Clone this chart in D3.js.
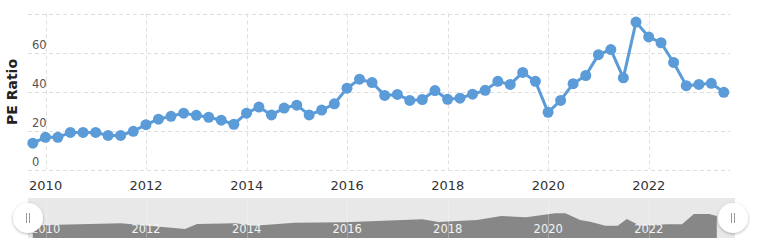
<!DOCTYPE html>
<html>
<head>
<meta charset="utf-8">
<script src="https://cdn.jsdelivr.net/npm/d3@7/dist/d3.min.js"></script>
<style>
  body { margin: 0; background: #fff; }
  svg { display: block; font-family: "DejaVu Sans", sans-serif; }
</style>
</head>
<body>
<div id="chart"></div>
<script>
// quarterly PE ratio, quarter-end dates
var dates = ["2009-09-30","2009-12-31","2010-03-31","2010-06-30","2010-09-30","2010-12-31",
    "2011-03-31","2011-06-30","2011-09-30","2011-12-31","2012-03-31","2012-06-30","2012-09-30","2012-12-31",
    "2013-03-31","2013-06-30","2013-09-30","2013-12-31","2014-03-31","2014-06-30","2014-09-30","2014-12-31",
    "2015-03-31","2015-06-30","2015-09-30","2015-12-31","2016-03-31","2016-06-30","2016-09-30","2016-12-31",
    "2017-03-31","2017-06-30","2017-09-30","2017-12-31","2018-03-31","2018-06-30","2018-09-30","2018-12-31",
    "2019-03-31","2019-06-30","2019-09-30","2019-12-31","2020-03-31","2020-06-30","2020-09-30","2020-12-31",
    "2021-03-31","2021-06-30","2021-09-30","2021-12-31","2022-03-31","2022-06-30","2022-09-30","2022-12-31",
    "2023-03-31","2023-06-30"];
var peValues = [13.5, 16.5, 16.5, 19, 19, 19, 17.5, 17.5, 19.6, 23, 25.8, 27.3, 28.9, 27.8,
    26.8, 25.3, 23.2, 28.9, 32, 28, 31.5, 33, 28, 30.5, 33.7, 41.7, 46.3, 44.6, 38, 38.5,
    35.4, 35.9, 40.5, 36, 36.6, 38.6, 40.6, 45.2, 43.6, 49.8, 45.2, 29.3, 35.4, 44, 48.2, 58.9,
    61.5, 47, 75.6, 68, 65, 54.9, 43, 43.6, 44.2, 39.6];
var yTicks = [0, 20, 40, 60, 80];
var xTickYears = [2010, 2012, 2014, 2016, 2018, 2020, 2022];

// navigator series
var navDates = ["2009-09-30","2010-01-15","2011-07-01","2012-10-10","2013-01-05","2013-10-10",
    "2014-02-25","2014-12-15","2015-12-10","2017-07-01","2017-10-25","2018-08-01","2019-01-25",
    "2019-07-25","2020-02-20","2020-05-05","2020-08-20","2020-11-01","2021-02-20","2021-05-20",
    "2021-07-25","2021-10-30","2022-05-15","2022-08-30","2022-11-25","2023-03-15","2023-05-10"];
var navValues = [13, 13, 14.7, 9, 14, 14.7, 12.3, 15.3, 15.7, 18.7, 16, 18, 22, 20.7, 24.7, 24.7,
    18, 16.3, 12.3, 12.3, 19, 12.3, 13.7, 13.7, 24, 24, 22];

var W = 768, H = 248;
var parse = d3.timeParse("%Y-%m-%d");
var data = dates.map(function (d, i) { return { date: parse(d), value: peValues[i] }; });
var navData = navDates.map(function (d, i) { return { date: parse(d), value: navValues[i] }; });

var svg = d3.select("#chart").append("svg").attr("width", W).attr("height", H);

var plotLeft = 28, plotRight = 730, plotTop = 13.5, plotBottom = 169.5;

var x = d3.scaleTime()
    .domain([parse("2009-08-26"), parse("2023-08-14")])
    .range([plotLeft, plotRight]);
var y = d3.scaleLinear().domain([0, 80]).range([plotBottom, plotTop]);

// grid
var grid = svg.append("g");
grid.selectAll("line.h").data(yTicks).enter().append("line")
    .attr("x1", plotLeft).attr("x2", plotRight)
    .attr("y1", function (d) { return Math.round(y(d)) + 0.5; })
    .attr("y2", function (d) { return Math.round(y(d)) + 0.5; })
    .attr("stroke", "#dedede").attr("stroke-dasharray", "4,3");
grid.selectAll("line.v").data(xTickYears).enter().append("line")
    .attr("x1", function (d) { return Math.round(x(new Date(d, 0, 1))) + 0.5; })
    .attr("x2", function (d) { return Math.round(x(new Date(d, 0, 1))) + 0.5; })
    .attr("y1", plotTop).attr("y2", plotBottom)
    .attr("stroke", "#dedede").attr("stroke-dasharray", "4,3");

// y labels
svg.append("g").selectAll("text").data(yTicks.slice(0, 4)).enter().append("text")
    .attr("x", 32).attr("y", function (d) { return y(d) - 4; })
    .attr("font-size", 11.5).attr("fill", "#555")
    .text(function (d) { return d; });

svg.append("text")
    .attr("transform", "translate(17,92) rotate(-90)")
    .attr("text-anchor", "middle")
    .attr("font-size", 14).attr("font-weight", "bold").attr("fill", "#222")
    .text("PE Ratio");

// x labels
svg.append("g").selectAll("text").data(xTickYears).enter().append("text")
    .attr("x", function (d) { return x(new Date(d, 0, 1)); })
    .attr("y", 190)
    .attr("text-anchor", "middle").attr("font-size", 13).attr("fill", "#333")
    .text(function (d) { return d; });

// line + markers
var line = d3.line().x(function (d) { return x(d.date); }).y(function (d) { return y(d.value); });
svg.append("path").datum(data).attr("d", line)
    .attr("fill", "none").attr("stroke", "#5a9bd8").attr("stroke-width", 3)
    .attr("stroke-linejoin", "round");
svg.append("g").selectAll("circle").data(data).enter().append("circle")
    .attr("cx", function (d) { return x(d.date); })
    .attr("cy", function (d) { return y(d.value); })
    .attr("r", 5.5).attr("fill", "#5a9bd8");

// navigator
var navTop = 198, navBottom = 238, navLeft = 28, navRight = 735;
var nx = d3.scaleTime()
    .domain([parse("2009-08-26"), parse("2023-08-14")])
    .range([navLeft, plotRight]);
var ny = d3.scaleLinear().domain([0, 40]).range([navBottom, navTop]);

svg.append("rect").attr("x", navLeft).attr("y", navTop)
    .attr("width", navRight - navLeft).attr("height", navBottom - navTop)
    .attr("fill", "#e8e8e8");

var area = d3.area().x(function (d) { return nx(d.date); })
    .y0(navBottom).y1(function (d) { return ny(d.value); });
svg.append("path").datum(navData).attr("d", area).attr("fill", "#878787");

svg.append("g").selectAll("line").data(xTickYears).enter().append("line")
    .attr("x1", function (d) { return Math.round(nx(new Date(d, 0, 1))) + 0.5; })
    .attr("x2", function (d) { return Math.round(nx(new Date(d, 0, 1))) + 0.5; })
    .attr("y1", navTop).attr("y2", navBottom)
    .attr("stroke", "#fff").attr("stroke-opacity", 0.25);

svg.append("g").selectAll("text").data(xTickYears).enter().append("text")
    .attr("x", function (d) { return nx(new Date(d, 0, 1)); })
    .attr("y", 233)
    .attr("text-anchor", "middle").attr("font-size", 11.5).attr("fill", "#f4f4f4")
    .text(function (d) { return d; });

// handles
var defs = svg.append("defs");
var f = defs.append("filter").attr("id", "sh").attr("x", "-50%").attr("y", "-50%")
    .attr("width", "200%").attr("height", "200%");
f.append("feDropShadow").attr("dx", 0).attr("dy", 1).attr("stdDeviation", 1.5)
    .attr("flood-color", "#000").attr("flood-opacity", 0.3);

[navLeft, 733].forEach(function (cx) {
    var g = svg.append("g").attr("transform", "translate(" + cx + ",218)");
    g.append("circle").attr("r", 15).attr("fill", "#fff").attr("filter", "url(#sh)");
    g.append("line").attr("x1", -1.5).attr("x2", -1.5).attr("y1", -5).attr("y2", 5)
        .attr("stroke", "#999");
    g.append("line").attr("x1", 1.5).attr("x2", 1.5).attr("y1", -5).attr("y2", 5)
        .attr("stroke", "#999");
});
</script>
</body>
</html>
